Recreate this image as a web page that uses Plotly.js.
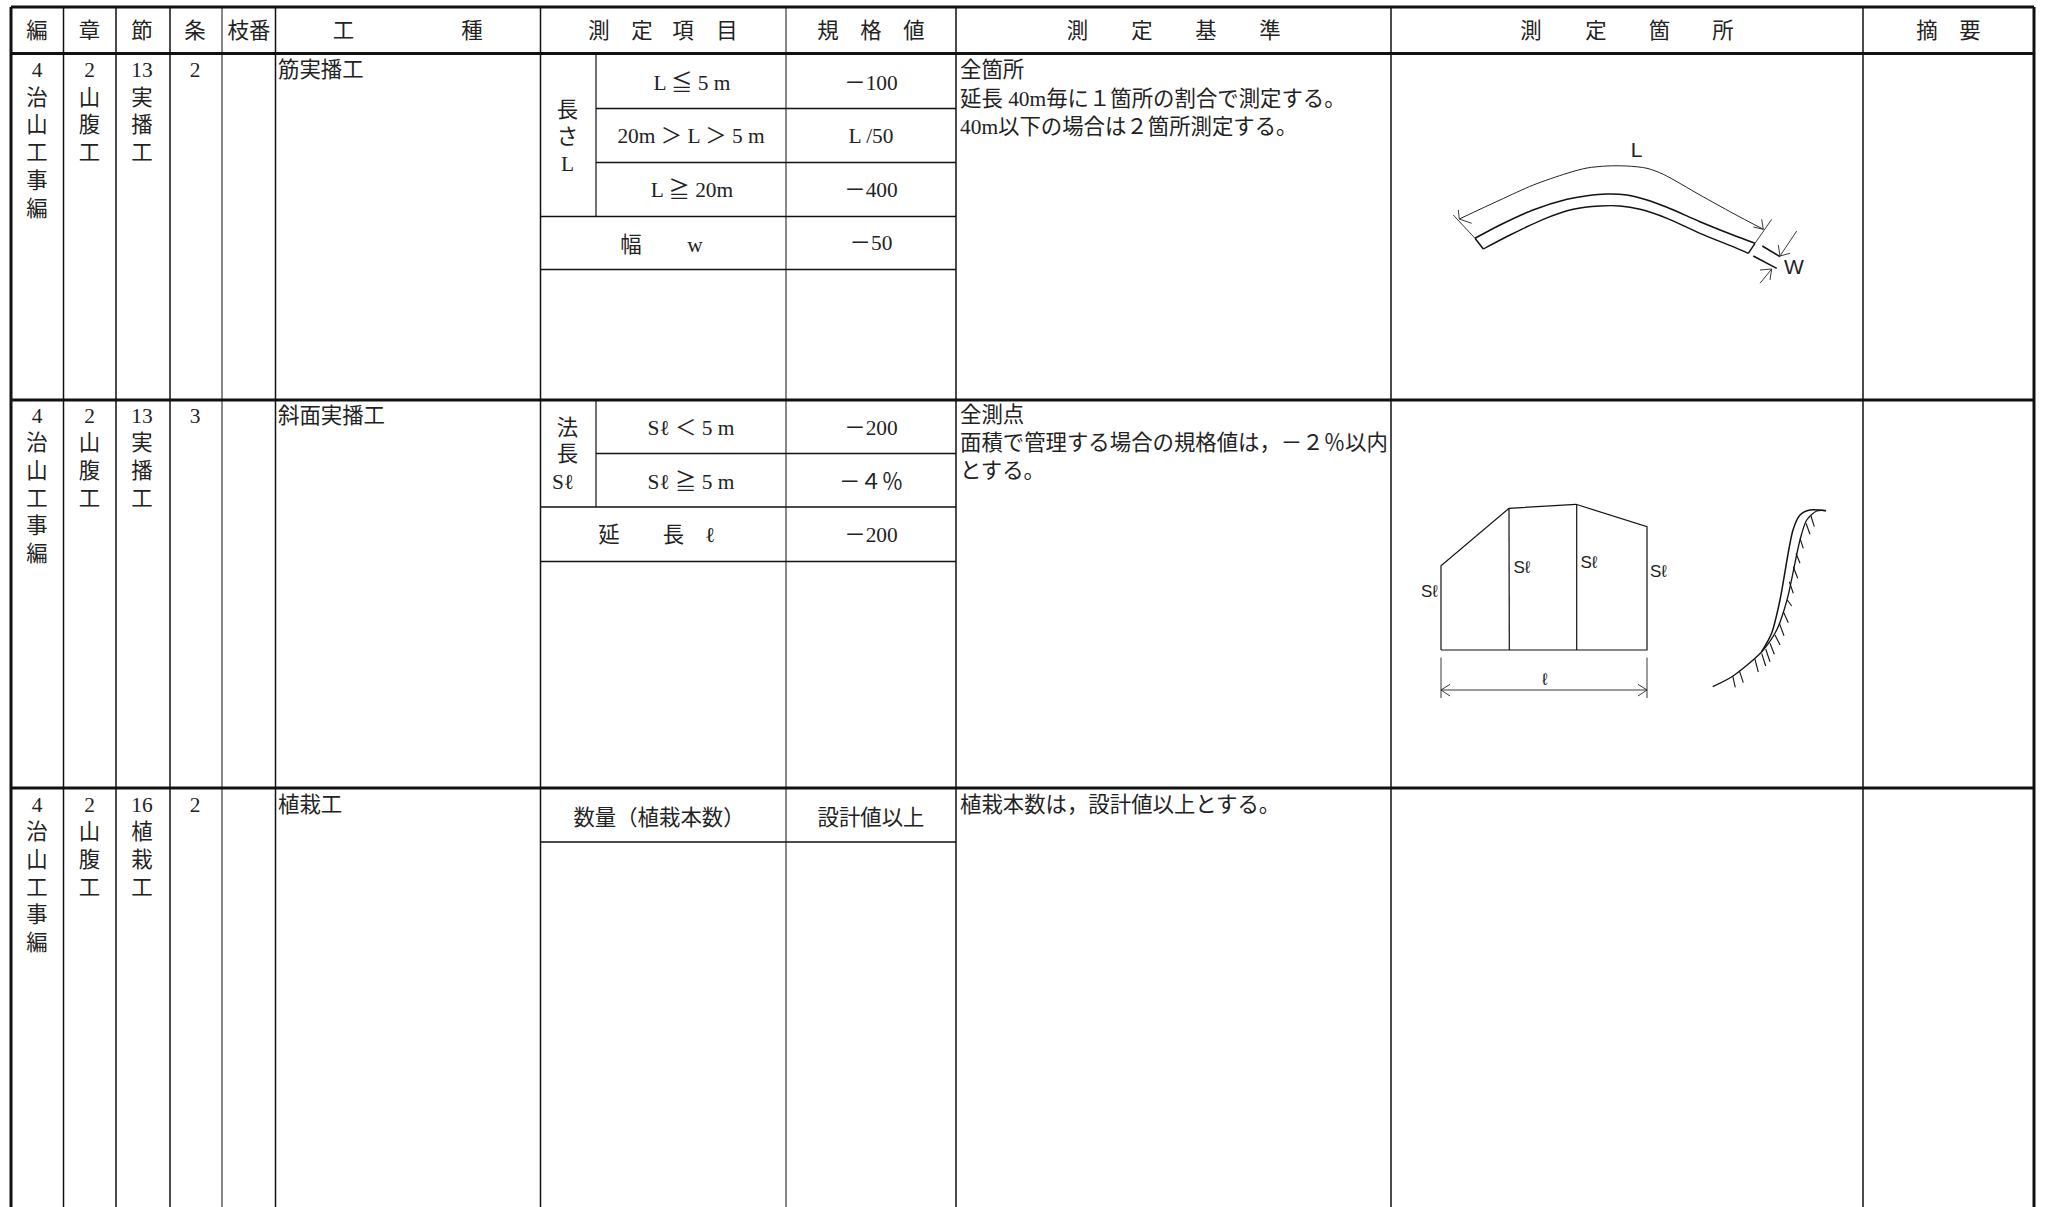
<!DOCTYPE html>
<html>
<head>
<meta charset="utf-8">
<script src="https://cdn.plot.ly/plotly-3.0.1.min.js"></script>
<style>html,body{margin:0;padding:0;background:#fff;overflow:hidden}#chart{width:2046px;height:1207px}</style>
</head>
<body>
<div id="chart"></div>
<script>
// ---------- table grid ----------
const outerColumns = [11, 2034];
const mainColumns = [63.5, 116, 170, 275.5, 540.5, 956, 1391, 1863];
const thinColumns = [222, 786];
const rowRules = [53.5, 400, 788];
const tableTop = 7, tableBottom = 1207;
const innerColumnSegments = [[596, 53.5, 216.5], [596, 400, 507]];
const shortRules = [[596, 956, 108.5], [596, 956, 162.5], [596, 956, 453.5]];
const longRules = [[541, 956, 216.5], [541, 956, 269.5], [541, 956, 507], [541, 956, 561.5], [541, 956, 842]];

// ---------- centred text ----------
const headerLabels = ['編','章','節','条','枝番','工','種','測','定','項','目','規','格','値','測','定','基','準','測','定','箇','所','摘','要'];
const headerX = [37,89.5,142,195,249,343.5,472,599,642,683,727,828,871,914,1077.5,1142,1206,1270,1531,1596,1659.5,1723,1927,1970];
const stackX = [37, 89.5, 142, 195];
const stackLines = [['4','治','山','工','事','編'],['2','山','腹','工'],['13','実','播','工'],['2']];
const stackLines2 = [['4','治','山','工','事','編'],['2','山','腹','工'],['13','実','播','工'],['3']];
const stackLines3 = [['4','治','山','工','事','編'],['2','山','腹','工'],['16','植','栽','工'],['2']];
const stackTops = [70.5, 416, 805];
const stackStep = 27.7;
const itemLabels = ['長','さ','L','L ≦ 5 m','20m ＞ L ＞ 5 m','L ≧ 20m','幅','w','法','長','Sℓ','Sℓ ＜ 5 m','Sℓ ≧ 5 m','延','長','ℓ','数量（植栽本数）'];
const itemX = [567.5,567.5,567.5,692,691,692,631,695,567.5,567.5,563,691,691,609,673.5,710,659];
const itemY = [110,137,164,83,136,190,245,245,428,454,482,428,482,535,535,535,818];
const specLabels = ['－100','L /50','－400','－50','－200','－４％','－200','設計値以上'];
const specX = [871,871,871,871,871,871,871,871];
const specY = [83,136,190,243,428,482,535,818];

// ---------- left aligned text ----------
const workLabels = ['筋実播工','斜面実播工','植栽工'];
const workY = [70.5, 416, 805];
const workX = 278;
const criteriaLabels = [
  '全箇所','延長 40m毎に１箇所の割合で測定する。','40m以下の場合は２箇所測定する。',
  '全測点','面積で管理する場合の規格値は，－２％以内','とする。',
  '植栽本数は，設計値以上とする。'
];
const criteriaY = [70.5, 99, 127, 415, 443, 471, 805];
const criteriaX = 960;

// ---------- sketch 1: bank line ----------
const bandUpperX = [1475,1500,1533,1567,1587,1607,1627,1647,1667,1700,1733,1755];
const bandUpperY = [238.3,225,210,199.3,195.7,194,195,200,207.3,221.7,235,243.3];
const bandLowerX = [1483.3,1510,1543.3,1573.3,1600,1620,1640,1667,1700,1733,1748.3];
const bandLowerY = [249,235,219.3,209.3,206,206,209.3,218.3,233.3,246.7,253.3];
const lengthCurveX = [1459.3,1500,1533.3,1567,1587,1607,1627,1647,1663.3,1700,1733,1763.3];
const lengthCurveY = [219,200,185,173.3,168,166,166,168.3,174.3,195,213.3,229.3];
const sketch1Thick = [
  [1475,238.3,1483.3,249],[1755,243.3,1748.3,253.3],
  [1762.3,246,1780,256.7],[1753.3,256,1776.7,268.3]
];
const sketch1Thin = [
  [1453.3,215,1475,238.3],[1771.7,219.3,1755,243.3],
  [1796.7,231,1780,256],[1760,283.3,1771.7,269],
  [1459.3,219,1458.3,210],[1459.3,219,1471.7,223.3],
  [1763.3,229.3,1761.7,219.3],[1763.3,229.3,1753.3,227],
  [1780,256,1778.3,245],[1780,256,1790,253.3],
  [1771.7,269,1760,270],[1771.7,269,1770,280]
];

// ---------- sketch 2: plan ----------
const planX = [1441,1441,1509,1576,1647,1647,1441];
const planY = [650,565.7,508.3,504.3,526.7,650,650];
const planDividers = [[1509,508.3,1509.3,650],[1576.7,505,1576.7,650]];
const planDims = [
  [1441,657.5,1441,698],[1647,657.5,1647,698],[1441,690,1647,690],
  [1441,690,1450,684.3],[1441,690,1450,696],[1647,690,1638,684.3],[1647,690,1638,696]
];
const planTextLabels = ['Sℓ','Sℓ','Sℓ','Sℓ','ℓ'];
const planTextX = [1429.5,1522,1589,1658.5,1545];
const planTextY = [592,567.5,563,572,679.5];
const sketchLetters = ['L','W'];
const sketchLetterX = [1636.7,1794];
const sketchLetterY = [151,268];

// ---------- sketch 2: slope section ----------
const slopeUpperX = [1761.7,1771.7,1780,1793,1800,1810,1826];
const slopeUpperY = [651.7,633,600,530,515,510,510.7];
const slopeLowerX = [1712.7,1733,1761.7,1776.7,1787,1800,1806.7,1816.7,1826];
const slopeLowerY = [686.7,676,651.7,630,600,540,520,511,510.7];
const slopeHatches = [
  [1732.7,676,1735.3,687.3],[1739.3,670.7,1743.3,682.7],[1755,659.3,1758.3,672],
  [1761.7,653.3,1765.7,666],[1765.7,649,1770,661.7],[1770,643.3,1774.3,654.3],
  [1775,635,1780,645],[1779.3,623.3,1784,635.7],[1783.3,611.7,1788.3,622.7],
  [1787.3,600,1791.7,606],[1789.3,581.7,1793.3,593.3],[1793.3,566.7,1797.7,578.3],
  [1796,553.3,1800,563.3],[1800,538.3,1803.3,548.3],[1806,523.3,1810,534.3],
  [1811,516,1814.3,526.7]
];

// ---------- style ----------
const INK = '#111';
const TEXT_INK = '#222';
const TEXT_DROP = 1.2;
const BODY_SIZE = 21.4;
const FONT = '"Liberation Serif","Noto Sans CJK JP",serif';
const SANS = '"Liberation Sans","Noto Sans CJK JP",sans-serif';

function segs(list) {
  const x = [], y = [];
  list.forEach(s => { x.push(s[0], s[2], null); y.push(s[1], s[3], null); });
  return {x, y};
}
function lineTrace(list, width, color) {
  const s = segs(list);
  return {type:'scatter', mode:'lines', x:s.x, y:s.y, hoverinfo:'skip', showlegend:false,
          line:{color:color||INK, width:width}};
}
function pathTrace(x, y, width, shape, color) {
  return {type:'scatter', mode:'lines', x:x, y:y, hoverinfo:'skip', showlegend:false,
          line:{color:color||INK, width:width, shape:shape||'linear', smoothing:0.8}};
}
function textTrace(text, x, y, pos, size, family) {
  return {type:'scatter', mode:'text', text:text, x:x, y:y.map(v => v + TEXT_DROP), hoverinfo:'skip', showlegend:false,
          textposition:pos, cliponaxis:false, textfont:{family:family||FONT, size:size, color:TEXT_INK}};
}

const stackText = [], stackXs = [], stackYs = [];
[stackLines, stackLines2, stackLines3].forEach((block, b) => {
  block.forEach((col, c) => col.forEach((t, i) => {
    stackText.push(t); stackXs.push(stackX[c]); stackYs.push(stackTops[b] + i * stackStep);
  }));
});

const traces = [
  lineTrace(outerColumns.map(x => [x, tableTop, x, tableBottom]), 3),
  lineTrace([[11, tableTop, 2034, tableTop]], 3),
  lineTrace(rowRules.map(y => [11, y, 2034, y]), 3),
  lineTrace(mainColumns.map(x => [x, tableTop, x, tableBottom]), 1.5),
  lineTrace(thinColumns.map(x => [x, tableTop, x, tableBottom]), 1),
  lineTrace(innerColumnSegments.map(s => [s[0], s[1], s[0], s[2]]), 1.2),
  lineTrace(shortRules.concat(longRules).map(s => [s[0], s[2], s[1], s[2]]), 1.3),

  pathTrace(bandUpperX, bandUpperY, 1.6, 'spline'),
  pathTrace(bandLowerX, bandLowerY, 1.4, 'spline'),
  pathTrace(lengthCurveX, lengthCurveY, 1, 'spline', '#222'),
  lineTrace(sketch1Thick, 1.5),
  lineTrace(sketch1Thin, 0.9, '#222'),

  pathTrace(planX, planY, 1.2),
  lineTrace(planDividers, 1.2),
  lineTrace(planDims, 0.9, '#222'),
  pathTrace(slopeUpperX, slopeUpperY, 1.5, 'spline'),
  pathTrace(slopeLowerX, slopeLowerY, 1.3, 'spline'),
  lineTrace(slopeHatches, 1.1),

  textTrace(headerLabels, headerX, headerLabels.map(() => 31), 'middle center', BODY_SIZE),
  textTrace(stackText, stackXs, stackYs, 'middle center', BODY_SIZE),
  textTrace(itemLabels, itemX, itemY, 'middle center', BODY_SIZE),
  textTrace(specLabels, specX, specY, 'middle center', BODY_SIZE),
  textTrace(workLabels, workLabels.map(() => workX), workY, 'middle right', BODY_SIZE),
  textTrace(criteriaLabels, criteriaLabels.map(() => criteriaX), criteriaY, 'middle right', BODY_SIZE),
  textTrace(planTextLabels, planTextX, planTextY, 'middle center', 17, SANS),
  textTrace(sketchLetters, sketchLetterX, sketchLetterY, 'middle center', 21, SANS)
];

const layout = {
  width: 2046, height: 1207,
  margin: {l:0, r:0, t:0, b:0, pad:0},
  paper_bgcolor: '#fff', plot_bgcolor: '#fff',
  showlegend: false, hovermode: false,
  xaxis: {range:[0, 2046], visible:false, fixedrange:true},
  yaxis: {range:[1207, 0], visible:false, fixedrange:true}
};
Plotly.newPlot('chart', traces, layout, {displayModeBar:false, staticPlot:true});
</script>
</body>
</html>
